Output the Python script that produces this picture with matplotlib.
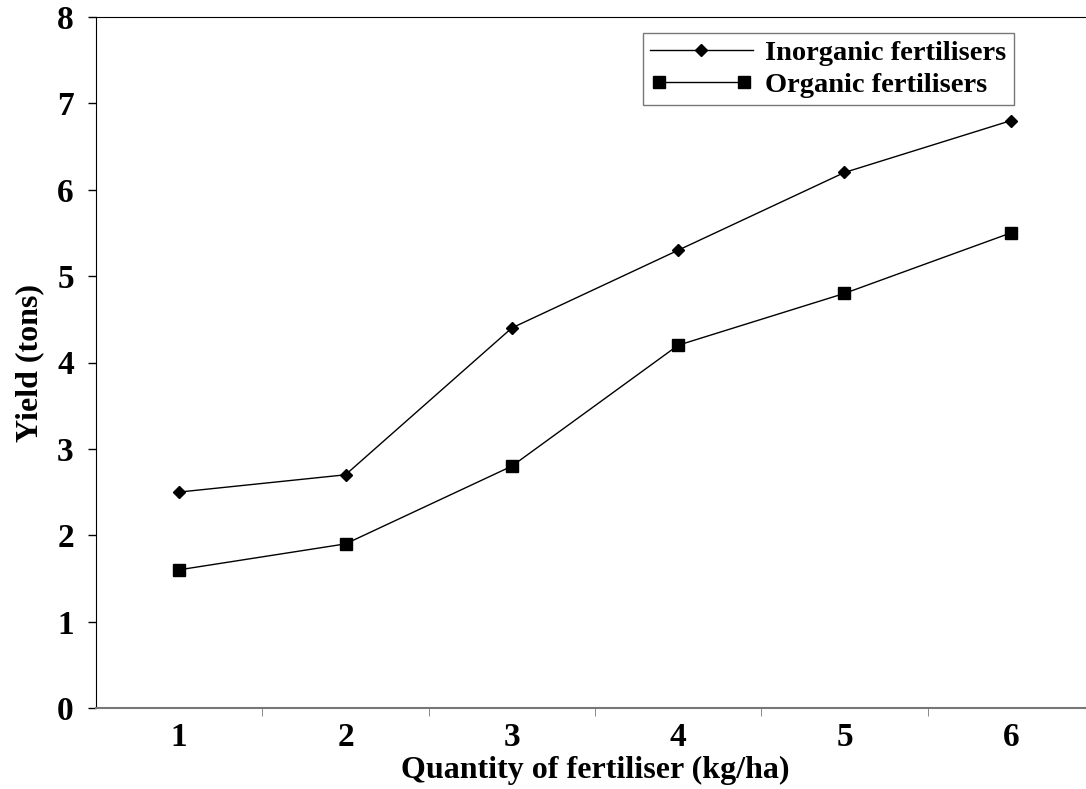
import numpy as np
import matplotlib.pyplot as plt
from matplotlib.ticker import FixedLocator
from matplotlib.legend_handler import HandlerLine2D

plt.rcParams['font.family'] = ['Liberation Serif', 'DejaVu Serif']
plt.rcParams['font.weight'] = 'bold'

quantity = [1, 2, 3, 4, 5, 6]
inorganic = [2.5, 2.7, 4.4, 5.3, 6.2, 6.8]
organic = [1.6, 1.9, 2.8, 4.2, 4.8, 5.5]

fig = plt.figure(figsize=(10.86, 7.89), dpi=100)
ax = fig.add_axes([96/1086, 1 - 708/789, (1094 - 96)/1086, (708 - 17)/789])

l1, = ax.plot(quantity, inorganic, color='black', lw=1, marker='D', ms=6.5,
              label='Inorganic fertilisers')
l2, = ax.plot(quantity, organic, color='black', lw=1, marker='s', ms=8.5,
              label='Organic fertilisers')

ax.set_xlim(0.5, 6.5)
ax.set_ylim(0, 8)
ax.set_yticks(range(0, 9))
ax.set_xticks(quantity)
ax.xaxis.set_minor_locator(FixedLocator(np.arange(1.5, 6.5, 1)))
ax.tick_params(axis='x', which='major', length=0, pad=10, labelsize=24)
ax.tick_params(axis='x', which='minor', length=6, color='#777777', direction='out')
ax.tick_params(axis='y', length=6, width=1, pad=10, labelsize=24)

ax.spines['right'].set_visible(False)
ax.spines['bottom'].set_color('#777777')
ax.spines['bottom'].set_linewidth(1.5)

ax.set_xlabel('Quantity of fertiliser (kg/ha)', fontsize=23, fontweight='bold', labelpad=2)
ax.set_ylabel('Yield (tons)', fontsize=23, fontweight='bold', labelpad=9)

leg = ax.legend(loc='upper left', bbox_to_anchor=((643 - 96)/998, (708 - 33)/691),
                fontsize=20.5, frameon=True, fancybox=False, edgecolor='#555555',
                handlelength=3.6, borderpad=0.25, labelspacing=0.2, handletextpad=0.45,
                borderaxespad=0,
                handler_map={l1: HandlerLine2D(numpoints=1),
                             l2: HandlerLine2D(numpoints=2)})
leg.get_frame().set_linewidth(1)

fig.savefig('out.png', dpi=100)
